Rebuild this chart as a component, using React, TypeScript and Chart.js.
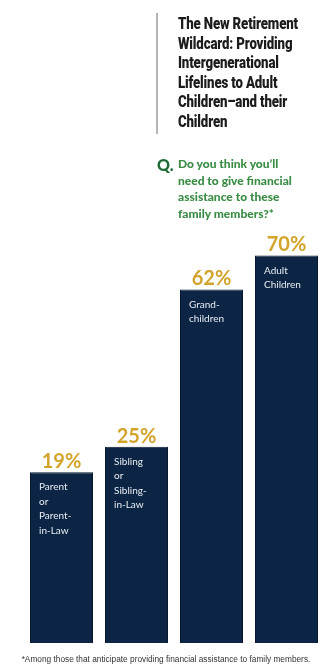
import React, { useEffect, useRef } from "react";
import { Chart, registerables } from "chart.js";

Chart.register(...registerables);

const categories: string[][] = [
  ["Parent", "or", "Parent-", "in-Law"],
  ["Sibling", "or", "Sibling-", "in-Law"],
  ["Grand-", "children"],
  ["Adult", "Children"],
];
const values: number[] = [19, 25, 62, 70];
const valueLabels: string[] = ["19%", "25%", "62%", "70%"];

const titleLines: string[] = [
  "The New Retirement",
  "Wildcard: Providing",
  "Intergenerational",
  "Lifelines to Adult",
  "Children\u2013and their",
  "Children",
];
const questionLines: string[] = [
  "Do you think you\u2019ll",
  "need to give financial",
  "assistance to these",
  "family members?*",
];
const footnote = "*Among those that anticipate providing financial assistance to family members.";

const BAR = "#0c2545";
const GOLD = "#d2a42c";
const AXIS_MIN = -21.2;

const labelPlugin = {
  id: "barLabels",
  afterDatasetsDraw(chart: any) {
    const ctx = chart.ctx;
    const meta = chart.getDatasetMeta(0);
    meta.data.forEach((el: any, i: number) => {
      const { x, y, width } = el.getProps(["x", "y", "width"], true);
      ctx.save();
      ctx.fillStyle = GOLD;
      ctx.font = "bold 20px Lato, 'Noto Sans', sans-serif";
      ctx.textAlign = "center";
      ctx.textBaseline = "alphabetic";
      ctx.fillText(valueLabels[i], x, y - 4);
      ctx.fillStyle = "#e8ecf2";
      ctx.font = "10px Lato, 'Noto Sans', sans-serif";
      ctx.textAlign = "left";
      ctx.textBaseline = "top";
      categories[i].forEach((line, j) => {
        ctx.fillText(line, x - width / 2 + 9, y + 10 + j * 14.5);
      });
      ctx.restore();
    });
  },
};

export default function App() {
  const ref = useRef<HTMLCanvasElement | null>(null);
  useEffect(() => {
    if (!ref.current) return;
    const chart = new Chart(ref.current, {
      type: "bar",
      data: {
        labels: categories.map((c) => c.join(" ")),
        datasets: [
          {
            data: values,
            base: AXIS_MIN,
            backgroundColor: BAR,
            borderColor: "#06172e",
            borderWidth: 1,
            barPercentage: 0.84,
            categoryPercentage: 1,
          } as any,
        ],
      },
      options: {
        responsive: false,
        animation: false,
        devicePixelRatio: 1,
        layout: { padding: { left: 24, right: 8, top: 213, bottom: 29 } },
        plugins: { legend: { display: false }, tooltip: { enabled: false } },
        scales: {
          x: { display: false },
          y: { display: false, min: AXIS_MIN, max: 80 },
        },
      },
      plugins: [labelPlugin],
    });
    return () => chart.destroy();
  }, []);

  return (
    <div style={{ position: "absolute", left: 0, top: 0, width: 332, height: 672, background: "#fff", overflow: "hidden" }}>
      <canvas ref={ref} width={332} height={672} style={{ position: "absolute", left: 0, top: 0, width: 332, height: 672 }} />
      <div style={{ position: "absolute", left: 156, top: 13, width: 2, height: 121, background: "#b5b5b5" }} />
      <div
        style={{
          position: "absolute",
          left: 178,
          top: 14,
          fontFamily: "Roboto, 'Liberation Sans', sans-serif",
          fontWeight: 900,
          fontSize: 17,
          lineHeight: "19.5px",
          color: "#1c1c1c",
          whiteSpace: "nowrap",
          transform: "scaleX(0.78)",
          transformOrigin: "left top",
          letterSpacing: "-0.2px",
        }}
      >
        {titleLines.map((l, i) => (
          <div key={i}>{l}</div>
        ))}
      </div>
      <div
        style={{
          position: "absolute",
          left: 157,
          top: 155,
          fontFamily: "Lato, 'Noto Sans', sans-serif",
          fontWeight: 900,
          fontSize: 16,
          color: "#1f6a35",
        }}
      >
        Q.
      </div>
      <div
        style={{
          position: "absolute",
          left: 178,
          top: 156,
          fontFamily: "Lato, 'Noto Sans', sans-serif",
          fontWeight: 900,
          fontSize: 12,
          lineHeight: "16.5px",
          color: "#3a8c45",
          whiteSpace: "nowrap",
        }}
      >
        {questionLines.map((l, i) => (
          <div key={i}>{l}</div>
        ))}
      </div>
      <div
        style={{
          position: "absolute",
          left: 0,
          width: 332,
          top: 654,
          textAlign: "center",
          fontFamily: "'Liberation Sans', Arial, sans-serif",
          fontSize: 8.3,
          color: "#333",
          whiteSpace: "nowrap",
        }}
      >
        {footnote}
      </div>
    </div>
  );
}
